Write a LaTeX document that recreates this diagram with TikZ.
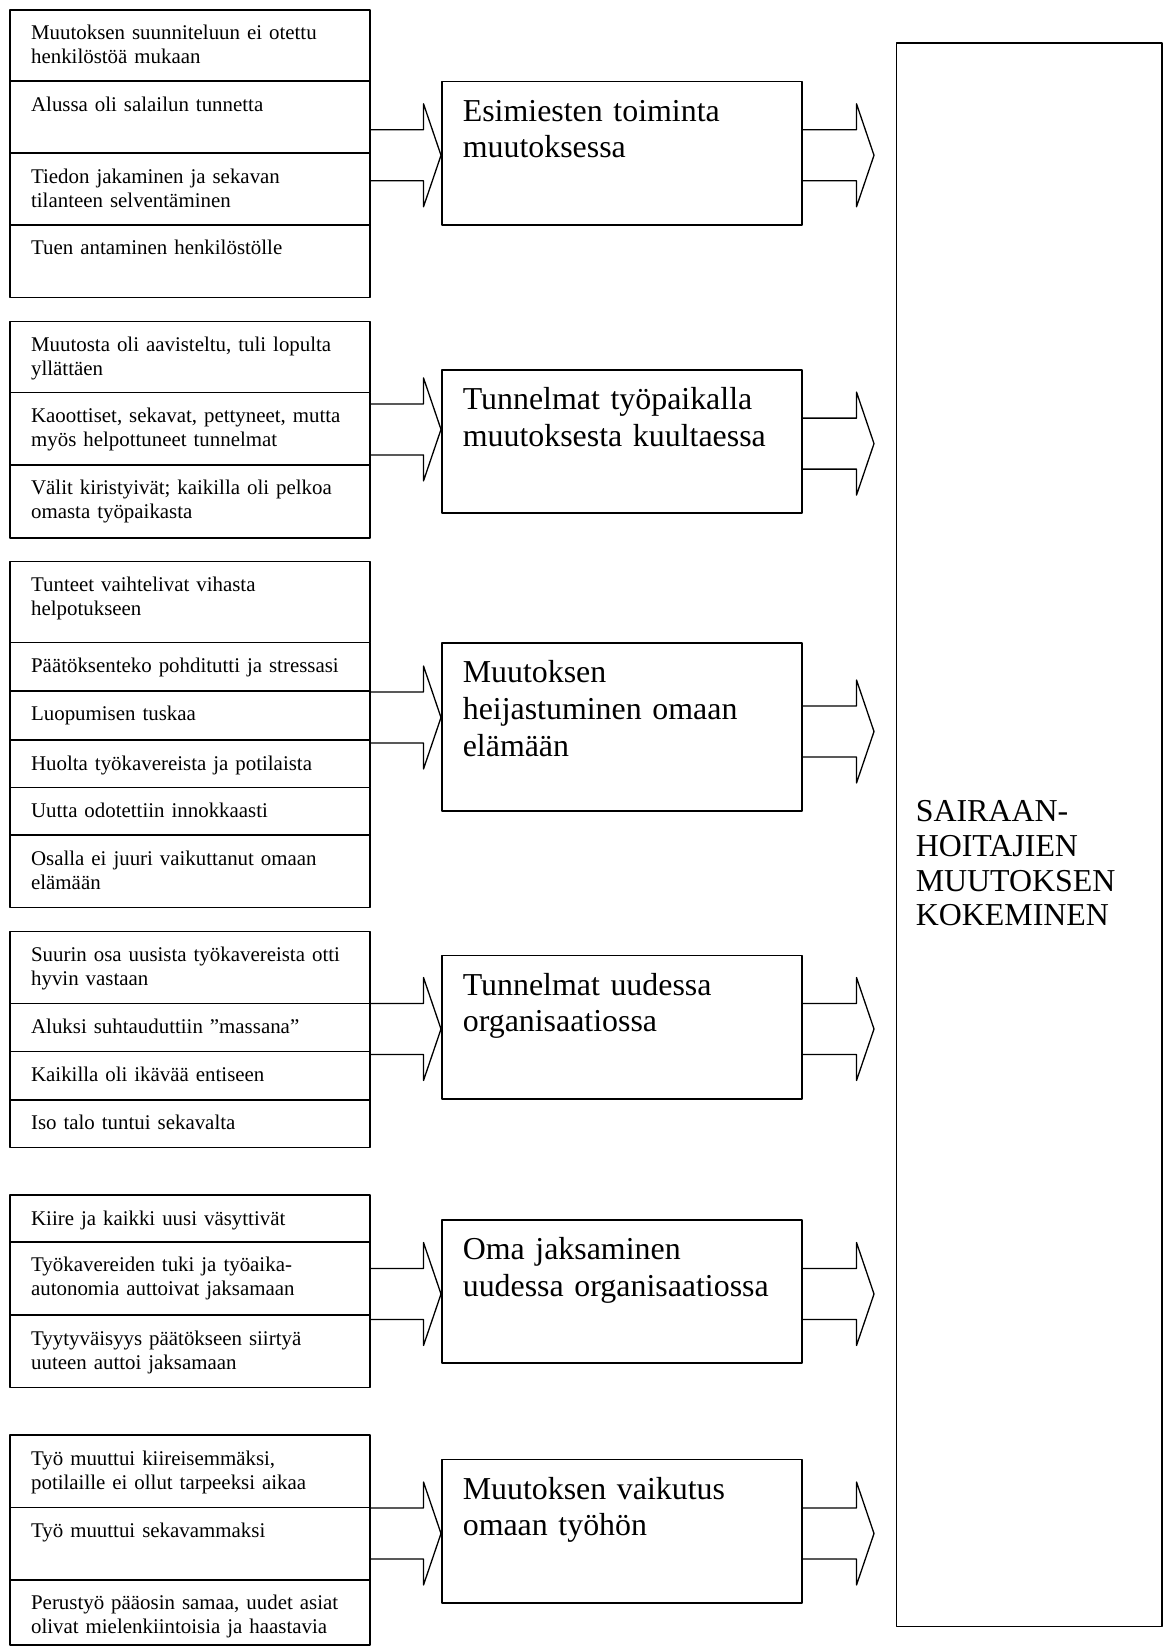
\documentclass[tikz,border=0pt]{standalone}
\usepackage{fontspec}
\setmainfont{Liberation Serif}
\usepackage{tikz}
\usetikzlibrary{calc,positioning}

\newcommand{\smalltext}{\fontsize{20.9pt}{24pt}\selectfont}
\newcommand{\bigtext}{\fontsize{31.9pt}{36.7pt}\selectfont}

% one cell of a left list: name, top, bottom, text
\newcommand{\drawCell}[4]{
    \pgfmathsetlengthmacro{\celldepth}{#3-#2-30}
    \node[cell,text depth=\celldepth] (#1) at (9,#2) {#4};
}
% theme box in the middle: name, top, bottom, text
\newcommand{\drawTheme}[4]{
    \pgfmathsetlengthmacro{\celldepth}{#3-#2-39.5}
    \node[theme,text depth=\celldepth] (#1) at (441,#2) {#4};
}
% block arrow: from node, to node, centre y, gap before the target
\newcommand{\drawBlockArrow}[4]{
    \draw[blockarrow] let \p1=(#1.east), \p2=(#2.west), \p3=(0,#3) in
        (\x1,\y3+25.5pt) -- (\x2-#4pt-17.5pt,\y3+25.5pt) -- (\x2-#4pt-17.5pt,\y3+51.5pt)
        -- (\x2-#4pt,\y3) -- (\x2-#4pt-17.5pt,\y3-51.5pt) -- (\x2-#4pt-17.5pt,\y3-25.5pt)
        -- (\x1,\y3-25.5pt);
}

\begin{document}
\begin{tikzpicture}[x=1pt,y=-1pt,line cap=round,line join=round,
    cell/.style={draw,line width=1.6pt,anchor=north west,inner xsep=21.3pt,inner ysep=0pt,
        text width=317.4pt,align=left,text height=30pt,font=\smalltext},
    theme/.style={draw,line width=1.6pt,anchor=north west,inner xsep=21pt,inner ysep=0pt,
        text width=318pt,align=left,text height=39.5pt,font=\bigtext},
    blockarrow/.style={line width=1.3pt}]
    \useasboundingbox (0,0) rectangle (1162,1646);

    \node[draw,line width=1.6pt,anchor=north west,inner xsep=19.5pt,inner ysep=0pt,
        text width=226.5pt,align=left,text height=778.7pt,text depth=804.7pt,
        font=\fontsize{31.9pt}{34.7pt}\selectfont] (K) at (895.5,42.3)
        {SAIRAAN-\\HOITAJIEN\\MUUTOKSEN\\KOKEMINEN};

    \drawCell{L1a}{9}{80.3}{Muutoksen suunniteluun ei otettu\\henkilöstöä mukaan}
    \drawCell{L1b}{80.3}{152.3}{Alussa oli salailun tunnetta}
    \drawCell{L1c}{152.3}{224}{Tiedon jakaminen ja sekavan\\tilanteen selventäminen}
    \drawCell{L1d}{224}{296.7}{Tuen antaminen henkilöstölle}
    \drawTheme{M1}{80.7}{224}{Esimiesten toiminta\\muutoksessa}
    \drawBlockArrow{L1b}{M1}{155.3}{0}
    \drawBlockArrow{M1}{K}{155.3}{21.5}

    \drawCell{L2a}{320.7}{391.7}{Muutosta oli aavisteltu, tuli lopulta\\yllättäen}
    \drawCell{L2b}{391.7}{464}{Kaoottiset, sekavat, pettyneet, mutta\\myös helpottuneet tunnelmat}
    \drawCell{L2c}{464}{537.3}{Välit kiristyivät; kaikilla oli pelkoa\\omasta työpaikasta}
    \drawTheme{M2}{369}{512.3}{Tunnelmat työpaikalla\\muutoksesta kuultaessa}
    \drawBlockArrow{L2b}{M2}{429.4}{0}
    \drawBlockArrow{M2}{K}{443.6}{21.5}

    \drawCell{L3a}{560.7}{641.7}{Tunteet vaihtelivat vihasta\\helpotukseen}
    \drawCell{L3b}{641.7}{690}{Päätöksenteko pohditutti ja stressasi}
    \drawCell{L3c}{690}{739.3}{Luopumisen tuskaa}
    \drawCell{L3d}{739.3}{786.7}{Huolta työkavereista ja potilaista}
    \drawCell{L3e}{786.7}{834.3}{Uutta odotettiin innokkaasti}
    \drawCell{L3f}{834.3}{906.7}{Osalla ei juuri vaikuttanut omaan\\elämään}
    \drawTheme{M3}{642.3}{810}{Muutoksen\\heijastuminen omaan\\elämään}
    \drawBlockArrow{L3c}{M3}{717.5}{0}
    \drawBlockArrow{M3}{K}{731.5}{21.5}

    \drawCell{L4a}{930.7}{1002.7}{Suurin osa uusista työkavereista otti\\hyvin vastaan}
    \drawCell{L4b}{1002.7}{1050.7}{Aluksi suhtauduttiin ”massana”}
    \drawCell{L4c}{1050.7}{1099}{Kaikilla oli ikävää entiseen}
    \drawCell{L4d}{1099}{1146.7}{Iso talo tuntui sekavalta}
    \drawTheme{M4}{954.7}{1098.3}{Tunnelmat uudessa\\organisaatiossa}
    \drawBlockArrow{L4b}{M4}{1029}{0}
    \drawBlockArrow{M4}{K}{1029}{21.5}

    \drawCell{L5a}{1194.3}{1241}{Kiire ja kaikki uusi väsyttivät}
    \drawCell{L5b}{1241}{1314.3}{Työkavereiden tuki ja työaika-\\autonomia auttoivat jaksamaan}
    \drawCell{L5c}{1314.3}{1386.7}{Tyytyväisyys päätökseen siirtyä\\uuteen auttoi jaksamaan}
    \drawTheme{M5}{1219}{1362}{Oma jaksaminen\\uudessa organisaatiossa}
    \drawBlockArrow{L5b}{M5}{1294}{0}
    \drawBlockArrow{M5}{K}{1294}{21.5}

    \drawCell{L6a}{1434.3}{1506.7}{Työ muuttui kiireisemmäksi,\\potilaille ei ollut tarpeeksi aikaa}
    \drawCell{L6b}{1506.7}{1579}{Työ muuttui sekavammaksi}
    \drawCell{L6c}{1579}{1644}{Perustyö pääosin samaa, uudet asiat\\olivat mielenkiintoisia ja haastavia}
    \drawTheme{M6}{1458.7}{1602.3}{Muutoksen vaikutus\\omaan työhön}
    \drawBlockArrow{L6b}{M6}{1533.5}{0}
    \drawBlockArrow{M6}{K}{1533.5}{21.5}
\end{tikzpicture}
\end{document}
